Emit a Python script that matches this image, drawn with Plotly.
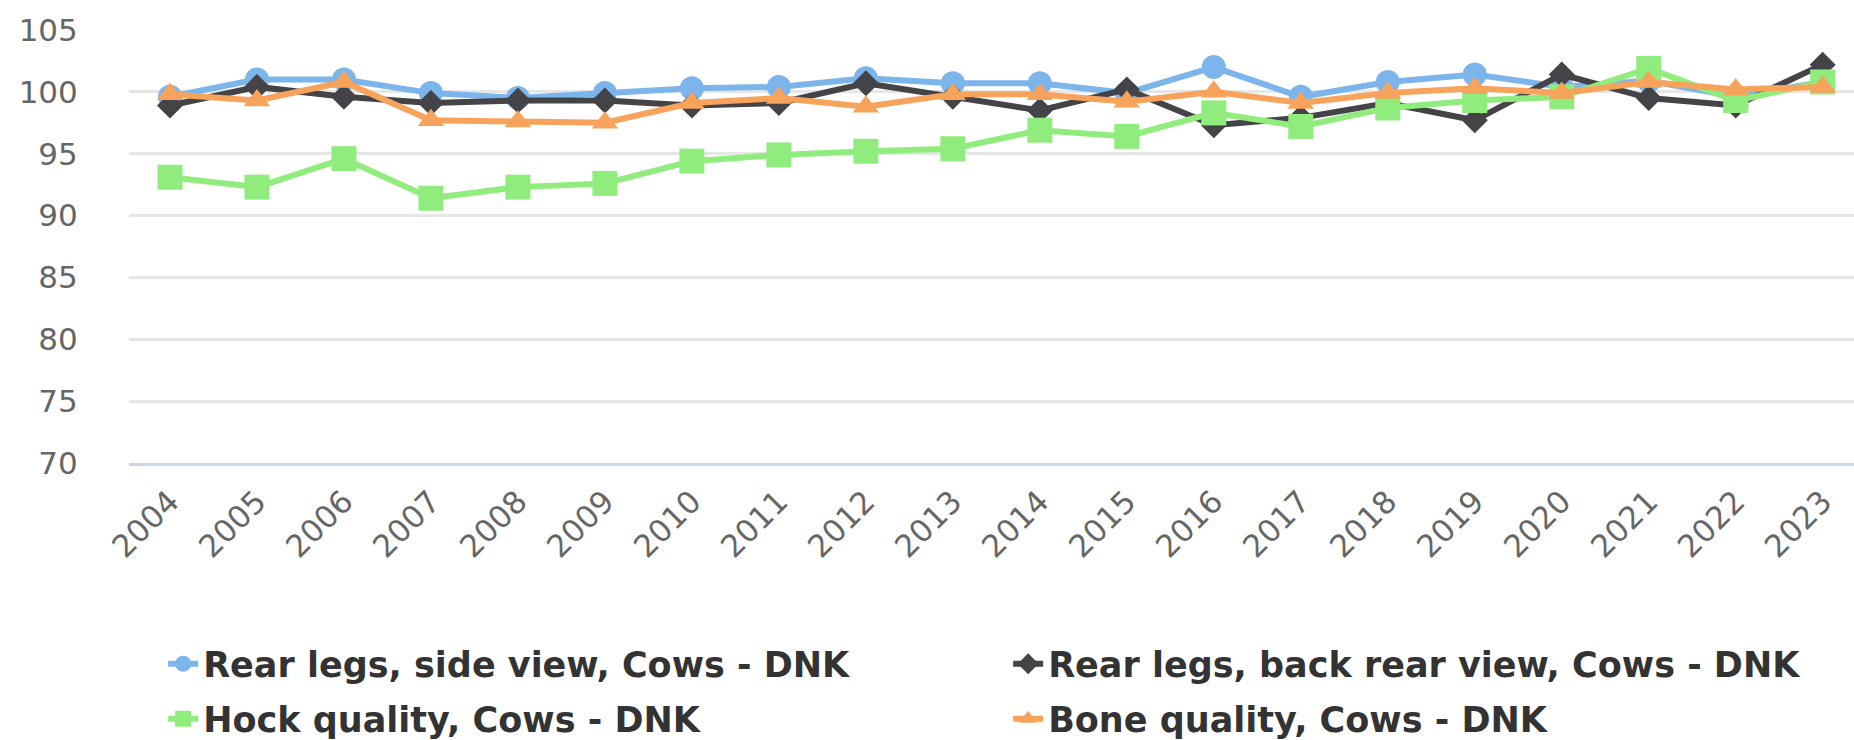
import plotly.graph_objects as go

# Years on the category axis
years = [str(y) for y in range(2004, 2024)]

# Index values per trait (Danish cows)
side_view = [99.6, 101.0, 101.0, 99.9, 99.5, 99.9, 100.3, 100.4, 101.1, 100.7,
             100.7, 99.9, 102.0, 99.6, 100.8, 101.4, 100.4, 100.9, 99.6, 100.8]
back_view = [98.9, 100.4, 99.6, 99.1, 99.3, 99.3, 98.9, 99.1, 100.7, 99.6,
             98.5, 100.2, 97.3, 97.9, 99.1, 97.7, 101.4, 99.5, 98.9, 102.2]
hock = [93.1, 92.3, 94.6, 91.4, 92.3, 92.6, 94.4, 94.9, 95.2, 95.4,
        96.9, 96.4, 98.3, 97.2, 98.7, 99.3, 99.6, 101.9, 99.3, 100.8]
bone = [99.8, 99.3, 100.8, 97.7, 97.6, 97.5, 99.1, 99.5, 98.8, 99.8,
        99.8, 99.2, 100.0, 99.1, 99.9, 100.3, 99.9, 100.8, 100.2, 100.4]

y_ticks = [70, 75, 80, 85, 90, 95, 100, 105]

FONT = "DejaVu Sans"
idx = list(range(len(years)))

series = [
    ("Rear legs, side view, Cows - DNK", side_view, "#7cb5ec", "circle", 24, "legend"),
    ("Rear legs, back rear view, Cows - DNK", back_view, "#434348", "diamond", 20, "legend"),
    ("Hock quality, Cows - DNK", hock, "#90ed7d", "square", 25, "legend2"),
    ("Bone quality, Cows - DNK", bone, "#f7a35c", "triangle-up", 23, "legend2"),
]

fig = go.Figure()
for name, vals, color, symbol, size, leg in series:
    fig.add_trace(go.Scatter(
        x=idx, y=vals, name=name, mode="lines+markers",
        line=dict(color=color, width=6),
        marker=dict(color=color, symbol=symbol, size=size, line=dict(width=0)),
        legend=leg,
    ))

# Reference line at 100
fig.add_shape(type="line", xref="paper", x0=0, x1=1, yref="y", y0=100, y1=100,
              line=dict(color="#a0a0a0", width=2), layer="below")

legend_common = dict(
    orientation="h", xref="container", yref="container",
    xanchor="left", yanchor="middle",
    entrywidth=800, entrywidthmode="pixels",
    font=dict(family=FONT, size=35, color="#333333", weight="bold"),
    bgcolor="rgba(0,0,0,0)", itemclick=False,
)

fig.update_layout(
    width=1854, height=740,
    margin=dict(l=129, r=0, t=30, b=277),
    paper_bgcolor="white", plot_bgcolor="white",
    showlegend=True,
    legend=dict(x=0.088, y=1 - 664 / 740, **legend_common),
    legend2=dict(x=0.088, y=1 - 719 / 740, **legend_common),
    xaxis=dict(
        range=[-0.471, 19.36],
        tickmode="array", tickvals=idx, ticktext=years,
        tickangle=-45,
        tickfont=dict(family=FONT, size=31, color="#666666"),
        showgrid=False, zeroline=False,
        showline=True, linecolor="#ccd6eb", linewidth=3,
        ticks="outside", ticklen=5, tickcolor="rgba(0,0,0,0)",
    ),
    yaxis=dict(
        range=[70, 105],
        tickmode="array", tickvals=y_ticks,
        tickfont=dict(family=FONT, size=31, color="#666666"),
        showgrid=True, gridcolor="#e6e6e6", gridwidth=3,
        zeroline=False, showline=False,
        ticks="outside", ticklen=44, tickcolor="rgba(0,0,0,0)",
    ),
)

fig.write_html("out.html")
